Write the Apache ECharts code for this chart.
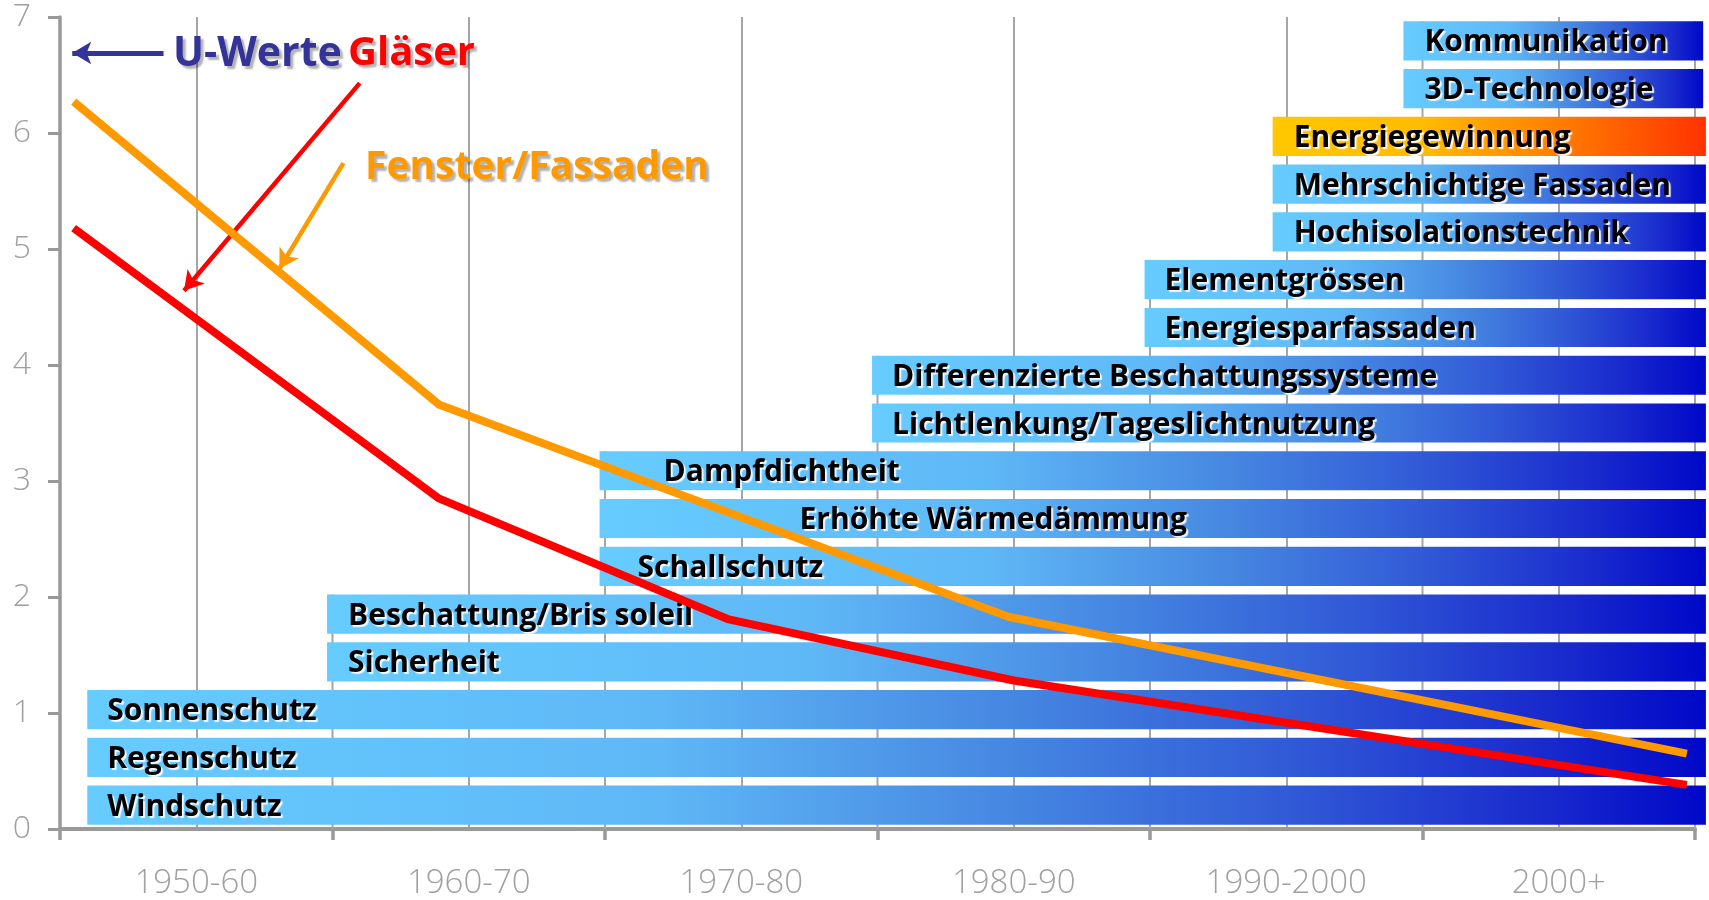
<!DOCTYPE html>
<html>
<head>
<meta charset="utf-8">
<script src="https://cdn.jsdelivr.net/npm/echarts/dist/echarts.min.js"></script>
<style>
html,body{margin:0;padding:0;background:#fff;}
#chart{width:1709px;height:900px;}
</style>
</head>
<body>
<div id="chart"></div>
<script>
// ---------------- data ----------------
const categories = ['1950-60', '1960-70', '1970-80', '1980-90', '1990-2000', '2000+'];
const categoryStartYear = 1950;   // left edge of the first decade
const categoryStep = 10;          // years per category

const barNames = [
  'Windschutz', 'Regenschutz', 'Sonnenschutz', 'Sicherheit', 'Beschattung/Bris soleil',
  'Schallschutz', 'Erhöhte Wärmedämmung', 'Dampfdichtheit',
  'Lichtlenkung/Tageslichtnutzung', 'Differenzierte Beschattungssysteme',
  'Energiesparfassaden', 'Elementgrössen',
  'Hochisolationstechnik', 'Mehrschichtige Fassaden', 'Energiegewinnung',
  '3D-Technologie', 'Kommunikation'
];
const barStart = [1951.0, 1951.0, 1951.0, 1959.8, 1959.8, 1969.8, 1969.8, 1969.8,
                  1979.8, 1979.8, 1989.8, 1989.8, 1994.5, 1994.5, 1994.5, 1999.3, 1999.3];
const barEnd   = [2010.4, 2010.4, 2010.4, 2010.4, 2010.4, 2010.4, 2010.4, 2010.4,
                  2010.4, 2010.4, 2010.4, 2010.4, 2010.4, 2010.4, 2010.4, 2010.3, 2010.3];

// decade boundaries with guide lines and the topmost bar row they reach
const guideYears  = [1960, 1970, 1980, 1990, 2000, 2010];
const guideTopRow = [4, 7, 9, 11, 16, 16];

// U-values
const glassX  = [1950.5, 1963.9, 1974.5, 1985.0, 2009.7];
const glassY  = [5.18, 2.85, 1.81, 1.28, 0.38];
const facadeX = [1950.5, 1963.9, 1984.8, 2009.7];
const facadeY = [6.27, 3.66, 1.83, 0.65];

// annotation arrows [x1, y1, x2, y2] in data units
const arrowUWerte = [1953.8, 6.69, 1950.45, 6.69];
const arrowGlass  = [1961.0, 6.43, 1954.55, 4.64];
const arrowFacade = [1960.4, 5.74, 1958.05, 4.83];

// ---------------- styles ----------------
const labelOffsets = [20, 20, 20, 21, 21, 38, 200, 64, 20, 20, 20, 20, 21, 21, 21, 21, 21];
const warmRows = ['Energiegewinnung'];
const coolStops = [
  {offset: 0, color: '#66CCFF'}, {offset: 0.35, color: '#5FB8F6'},
  {offset: 0.57, color: '#4687E1'}, {offset: 0.75, color: '#3058D6'},
  {offset: 0.9, color: '#192ACD'}, {offset: 1, color: '#0008C8'}
];
const warmStops = [
  {offset: 0, color: '#FFC800'}, {offset: 0.35, color: '#FFBB00'},
  {offset: 0.65, color: '#FF8000'}, {offset: 1, color: '#FF3300'}
];
const gridGray = '#A6A6A6';
const axisGray = '#999999';

// ---------------- build ----------------
const xAxisData = [];
for (let i = 0; i <= categories.length * 2; i++) {
  xAxisData.push(i % 2 === 1 ? categories[(i - 1) / 2] : '');
}
const xMin = categoryStartYear;
const xMax = categoryStartYear + categories.length * categoryStep;

const barData = barNames.map((n, i) => [barStart[i], barEnd[i], i]);
const guideData = guideYears.map((y, i) => [y, guideTopRow[i]]);
const glassData = glassX.map((x, i) => [x, glassY[i]]);
const facadeData = facadeX.map((x, i) => [x, facadeY[i]]);

function arrowLine(a, color, w) {
  return [
    {coord: [a[0], a[1]], lineStyle: {color: color, width: w, type: 'solid'}},
    {coord: [a[2], a[3]]}
  ];
}

const chart = echarts.init(document.getElementById('chart'), null, {renderer: 'canvas'});

const shadowText = {textShadowColor: 'rgba(0,0,0,0.3)', textShadowBlur: 2, textShadowOffsetX: 3, textShadowOffsetY: 3};

const option = {
  backgroundColor: '#ffffff',
  animation: false,
  grid: {left: 60, right: 14, top: 17, bottom: 69, containLabel: false},
  xAxis: [
    {
      type: 'category', data: xAxisData, boundaryGap: false,
      axisLine: {show: true, lineStyle: {color: axisGray, width: 4}},
      axisTick: {show: true, length: 11, interval: (i) => i % 2 === 0,
                 lineStyle: {color: axisGray, width: 3.5}},
      axisLabel: {show: true, interval: (i) => i % 2 === 1, color: '#A0A0A0',
                  fontFamily: 'Open Sans', fontWeight: 300, fontSize: 33, margin: 38},
      splitLine: {show: true, interval: (i) => i % 2 === 1,
                  lineStyle: {color: gridGray, width: 2}}
    },
    {type: 'value', min: xMin, max: xMax, show: false}
  ],
  yAxis: [
    {
      type: 'value', min: 0, max: 7, interval: 1,
      axisLine: {show: true, lineStyle: {color: axisGray, width: 3.5}},
      axisTick: {show: true, length: 12, lineStyle: {color: axisGray, width: 3}},
      axisLabel: {color: '#A0A0A0', fontFamily: 'Open Sans', fontWeight: 300, fontSize: 32, margin: 29},
      splitLine: {show: false}
    },
    {type: 'category', data: barNames, show: false, boundaryGap: true}
  ],
  series: [
    {
      type: 'custom', name: 'guides', xAxisIndex: 1, yAxisIndex: 1, z: 1,
      data: guideData, encode: {x: 0, y: 1}, silent: true,
      renderItem: function (params, api) {
        const p = api.coord([api.value(0), api.value(1)]);
        const h = api.size([0, 1])[1] * 0.82;
        const bottom = params.coordSys.y + params.coordSys.height;
        return {type: 'line', shape: {x1: p[0], y1: bottom, x2: p[0], y2: p[1] - h / 2},
                style: {stroke: gridGray, lineWidth: 2}};
      }
    },
    {
      type: 'custom', name: 'bars', xAxisIndex: 1, yAxisIndex: 1, z: 2,
      data: barData, encode: {x: [0, 1], y: 2}, silent: true, clip: false,
      renderItem: function (params, api) {
        const row = api.value(2);
        const s = api.coord([api.value(0), row]);
        const e = api.coord([api.value(1), row]);
        const h = api.size([0, 1])[1] * 0.82;
        const name = barNames[row];
        const stops = warmRows.indexOf(name) >= 0 ? warmStops : coolStops;
        return {
          type: 'group',
          children: [
            {type: 'rect', shape: {x: s[0], y: s[1] - h / 2, width: e[0] - s[0], height: h},
             style: {fill: new echarts.graphic.LinearGradient(0, 0, 1, 0, stops)}},
            {type: 'text', style: {
              text: name, x: s[0] + labelOffsets[row], y: s[1] + 2,
              verticalAlign: 'middle', align: 'left',
              font: 'bold 30px "Open Sans"', fill: '#000000',
              textShadowColor: 'rgba(255,255,255,0.9)', textShadowBlur: 1,
              textShadowOffsetX: 2, textShadowOffsetY: 2
            }}
          ]
        };
      }
    },
    {
      type: 'line', name: 'Fenster/Fassaden', xAxisIndex: 1, yAxisIndex: 0, z: 6,
      data: facadeData, symbol: 'none', silent: true,
      lineStyle: {color: '#FF9900', width: 8}
    },
    {
      type: 'line', name: 'Gläser', xAxisIndex: 1, yAxisIndex: 0, z: 5,
      data: glassData, symbol: 'none', silent: true,
      lineStyle: {color: '#FF0000', width: 8},
      markLine: {
        silent: true, symbol: ['none', 'arrow'], symbolSize: [17, 19],
        label: {show: false}, emphasis: {disabled: true},
        data: [
          arrowLine(arrowUWerte, '#333399', 5),
          arrowLine(arrowGlass, '#FF0000', 4.5),
          arrowLine(arrowFacade, '#FF9900', 4.5)
        ]
      }
    }
  ],
  graphic: [
    {type: 'text', x: 173, y: 54, z: 10, silent: true, style: Object.assign({
      text: 'U-Werte', font: 'bold 41px "Open Sans"', fill: '#333399', verticalAlign: 'middle'}, shadowText)},
    {type: 'text', x: 348, y: 54, z: 10, silent: true, style: Object.assign({
      text: 'Gläser', font: 'bold 40px "Open Sans"', fill: '#FF0000', verticalAlign: 'middle'}, shadowText)},
    {type: 'text', x: 365, y: 168, z: 10, silent: true, style: Object.assign({
      text: 'Fenster/Fassaden', font: 'bold 39px "Open Sans"', fill: '#FF9900', verticalAlign: 'middle'}, shadowText)}
  ]
};
chart.setOption(option);
</script>
</body>
</html>
